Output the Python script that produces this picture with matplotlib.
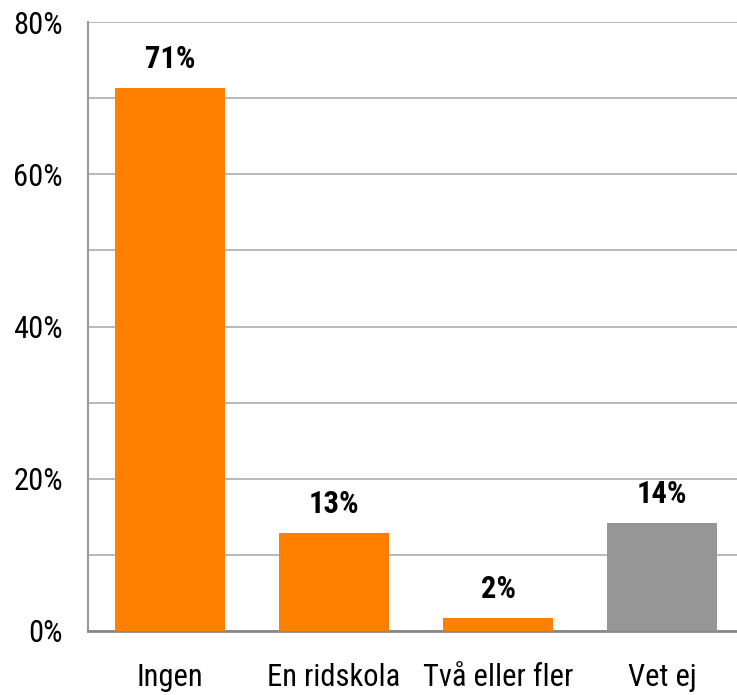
import matplotlib
matplotlib.use("Agg")
import matplotlib.pyplot as plt
from matplotlib.ticker import MultipleLocator, PercentFormatter

# narrow sans, close to Arial Narrow in the original
plt.rcParams['font.family'] = ['Roboto Condensed', 'DejaVu Sans']

categories = ['Ingen', 'En ridskola', 'Två eller fler', 'Vet ej']
values = [71.3, 12.9, 1.7, 14.2]
labels = ['71%', '13%', '2%', '14%']
colors = ['#FF8000', '#FF8000', '#FF8000', '#969696']

fig = plt.figure(figsize=(7.37, 6.95), dpi=100)
ax = fig.add_axes([0.1194, 0.0921, 0.8901, 0.8762])

x = range(len(categories))
bars = ax.bar(x, values, width=0.665, color=colors, zorder=3)

for b, lab in zip(bars, labels):
    ax.annotate(lab, (b.get_x() + b.get_width() / 2, b.get_height()),
                xytext=(0, 21), textcoords='offset points',
                ha='center', va='center', fontsize=22, fontweight='bold')

ax.set_xlim(-0.5, 3.5)
ax.set_ylim(0, 80)
ax.yaxis.set_major_locator(MultipleLocator(20))
ax.yaxis.set_minor_locator(MultipleLocator(10))
ax.yaxis.set_major_formatter(PercentFormatter(decimals=0))
ax.grid(axis='y', which='both', color='#b3b3b3', linewidth=1.3, zorder=0)

ax.set_xticks(list(x))
ax.set_xticklabels(categories, fontsize=22)
ax.tick_params(axis='x', length=0, pad=23)
ax.tick_params(axis='y', which='both', length=0, labelsize=22, pad=18)

for s in ['top', 'right']:
    ax.spines[s].set_visible(False)
ax.spines['left'].set_color('#999999')
ax.spines['left'].set_linewidth(1.5)
ax.spines['bottom'].set_color('#888888')
ax.spines['bottom'].set_linewidth(2)

fig.savefig('out.png', dpi=100)
